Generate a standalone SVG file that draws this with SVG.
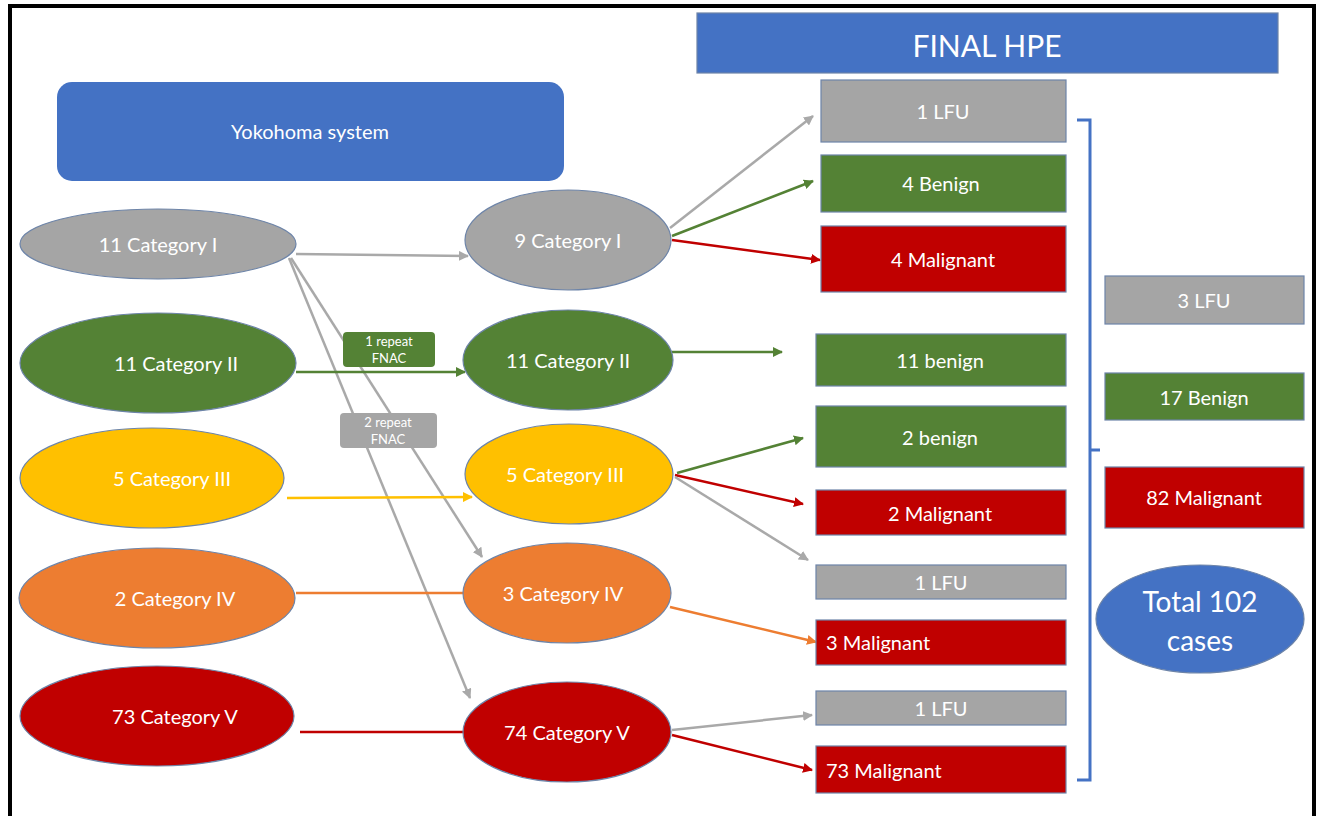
<svg xmlns="http://www.w3.org/2000/svg" width="1321" height="816" viewBox="0 0 1321 816">
<style>
text{font-family:Lato,"Open Sans","Liberation Sans",sans-serif;fill:#fff;text-anchor:middle;dominant-baseline:central}
.t{font-size:20px}
.s{font-size:13px}
.ol{stroke:#6d84a8;stroke-width:1.2}
.c{fill:none;stroke-width:2.5}
.gy{stroke:#a9a9a9}.gr{stroke:#548235}.rd{stroke:#c00000}.yl{stroke:#ffc000}.or{stroke:#ed7d31}
</style>
<defs>
<marker id="ag" viewBox="0 0 10 10" refX="9" refY="5" markerWidth="4" markerHeight="4" orient="auto" markerUnits="strokeWidth"><path d="M0,0L10,5L0,10z" fill="#a9a9a9"/></marker>
<marker id="an" viewBox="0 0 10 10" refX="9" refY="5" markerWidth="4" markerHeight="4" orient="auto" markerUnits="strokeWidth"><path d="M0,0L10,5L0,10z" fill="#548235"/></marker>
<marker id="ar" viewBox="0 0 10 10" refX="9" refY="5" markerWidth="4" markerHeight="4" orient="auto" markerUnits="strokeWidth"><path d="M0,0L10,5L0,10z" fill="#c00000"/></marker>
<marker id="ay" viewBox="0 0 10 10" refX="9" refY="5" markerWidth="4" markerHeight="4" orient="auto" markerUnits="strokeWidth"><path d="M0,0L10,5L0,10z" fill="#ffc000"/></marker>
<marker id="ao" viewBox="0 0 10 10" refX="9" refY="5" markerWidth="4" markerHeight="4" orient="auto" markerUnits="strokeWidth"><path d="M0,0L10,5L0,10z" fill="#ed7d31"/></marker>
</defs>
<rect width="1321" height="816" fill="#fff"/>
<g id="frame" fill="none" stroke="#000" stroke-width="4">
<path d="M10,816V6H1314V816"/>
</g>

<g id="connectors">
<line class="c gy" x1="296" y1="254" x2="468" y2="256" marker-end="url(#ag)"/>
<line class="c gy" x1="291" y1="258" x2="482" y2="557" marker-end="url(#ag)"/>
<line class="c gy" x1="289" y1="258" x2="470" y2="698" marker-end="url(#ag)"/>
<line class="c gr" x1="296" y1="372" x2="465" y2="372" marker-end="url(#an)"/>
<line class="c yl" x1="287" y1="498" x2="472" y2="497" marker-end="url(#ay)"/>
<line class="c or" x1="296" y1="593" x2="464" y2="593"/>
<line class="c rd" x1="300" y1="732" x2="464" y2="732"/>
<line class="c gy" x1="670" y1="228" x2="813" y2="116" marker-end="url(#ag)"/>
<line class="c gr" x1="672" y1="236" x2="813" y2="181" marker-end="url(#an)"/>
<line class="c rd" x1="672" y1="240" x2="820" y2="260" marker-end="url(#ar)"/>
<line class="c gr" x1="672" y1="352" x2="782" y2="352" marker-end="url(#an)"/>
<line class="c gr" x1="677" y1="473" x2="803" y2="438" marker-end="url(#an)"/>
<line class="c rd" x1="675" y1="475" x2="803" y2="504" marker-end="url(#ar)"/>
<line class="c gy" x1="675" y1="477" x2="808" y2="560" marker-end="url(#ag)"/>
<line class="c or" x1="670" y1="607" x2="816" y2="642" marker-end="url(#ao)"/>
<line class="c gy" x1="672" y1="730" x2="812" y2="715" marker-end="url(#ag)"/>
<line class="c rd" x1="672" y1="735" x2="812" y2="770" marker-end="url(#ar)"/>
<path d="M1077,120H1090V780H1077M1090,450H1100" fill="none" stroke="#4472c4" stroke-width="3"/>
</g>

<g id="final-hpe"><rect x="697" y="13" width="581" height="60" fill="#4472c4" class="ol"/><text x="987" y="45" style="font-size:30px">FINAL HPE</text></g>
<g id="yokohoma"><rect x="57" y="82" width="507" height="99" rx="15" fill="#4472c4"/><text class="t" x="310" y="131">Yokohoma system</text></g>

<g id="l1"><ellipse cx="158" cy="244" rx="138" ry="35" fill="#a5a5a5" class="ol"/><text class="t" x="158" y="244">11 Category I</text></g>
<g id="l2"><ellipse cx="158" cy="363" rx="138" ry="50" fill="#548235" class="ol"/><text class="t" x="176" y="363">11 Category II</text></g>
<g id="l3"><ellipse cx="152" cy="478" rx="132" ry="50" fill="#ffc000" class="ol"/><text class="t" x="172" y="478">5 Category III</text></g>
<g id="l4"><ellipse cx="157" cy="598" rx="138" ry="50" fill="#ed7d31" class="ol"/><text class="t" x="175" y="598">2 Category IV</text></g>
<g id="l5"><ellipse cx="157" cy="716" rx="137" ry="50" fill="#c00000" class="ol"/><text class="t" x="175" y="716">73 Category V</text></g>

<g id="m1"><ellipse cx="568" cy="240" rx="103" ry="50" fill="#a5a5a5" class="ol"/><text class="t" x="568" y="240">9 Category I</text></g>
<g id="m2"><ellipse cx="568" cy="360" rx="105" ry="50" fill="#548235" class="ol"/><text class="t" x="568" y="360">11 Category II</text></g>
<g id="m3"><ellipse cx="569" cy="474" rx="104" ry="50" fill="#ffc000" class="ol"/><text class="t" x="565" y="474">5 Category III</text></g>
<g id="m4"><ellipse cx="567" cy="593" rx="104" ry="50" fill="#ed7d31" class="ol"/><text class="t" x="563" y="593">3 Category IV</text></g>
<g id="m5"><ellipse cx="567" cy="732" rx="104" ry="50" fill="#c00000" class="ol"/><text class="t" x="567" y="732">74 Category V</text></g>

<g id="lbl1"><rect x="343" y="332" width="92" height="35" rx="4" fill="#548235"/><text class="s" x="389" y="341">1 repeat</text><text class="s" x="389" y="358">FNAC</text></g>
<g id="lbl2"><rect x="340" y="413" width="97" height="35" rx="4" fill="#a5a5a5"/><text class="s" x="388" y="422">2 repeat</text><text class="s" x="388" y="439">FNAC</text></g>

<g id="r1"><rect x="821" y="80" width="245" height="62" fill="#a5a5a5" class="ol"/><text class="t" x="943" y="111">1 LFU</text></g>
<g id="r2"><rect x="821" y="155" width="245" height="57" fill="#548235" class="ol"/><text class="t" x="941" y="183">4 Benign</text></g>
<g id="r3"><rect x="821" y="226" width="245" height="66" fill="#c00000" class="ol"/><text class="t" x="943" y="259">4 Malignant</text></g>
<g id="r4"><rect x="816" y="334" width="250" height="52" fill="#548235" class="ol"/><text class="t" x="940" y="360">11 benign</text></g>
<g id="r5"><rect x="816" y="406" width="250" height="61" fill="#548235" class="ol"/><text class="t" x="940" y="437">2 benign</text></g>
<g id="r6"><rect x="816" y="490" width="250" height="45" fill="#c00000" class="ol"/><text class="t" x="940" y="513">2 Malignant</text></g>
<g id="r7"><rect x="816" y="565" width="250" height="34" fill="#a5a5a5" class="ol"/><text class="t" x="941" y="582">1 LFU</text></g>
<g id="r8"><rect x="816" y="620" width="250" height="45" fill="#c00000" class="ol"/><text class="t" x="826" y="642" style="text-anchor:start">3 Malignant</text></g>
<g id="r9"><rect x="816" y="691" width="250" height="34" fill="#a5a5a5" class="ol"/><text class="t" x="941" y="708">1 LFU</text></g>
<g id="r10"><rect x="816" y="746" width="250" height="47" fill="#c00000" class="ol"/><text class="t" x="826" y="770" style="text-anchor:start">73 Malignant</text></g>

<g id="s1"><rect x="1105" y="276" width="199" height="48" fill="#a5a5a5" class="ol"/><text class="t" x="1204" y="300">3 LFU</text></g>
<g id="s2"><rect x="1105" y="373" width="199" height="47" fill="#548235" class="ol"/><text class="t" x="1204" y="397">17 Benign</text></g>
<g id="s3"><rect x="1105" y="467" width="199" height="61" fill="#c00000" class="ol"/><text class="t" x="1204" y="497">82 Malignant</text></g>
<g id="total"><ellipse cx="1200" cy="619" rx="104" ry="54" fill="#4472c4" class="ol"/><text x="1200" y="601" style="font-size:28px">Total 102</text><text x="1200" y="640" style="font-size:28px">cases</text></g>
</svg>
